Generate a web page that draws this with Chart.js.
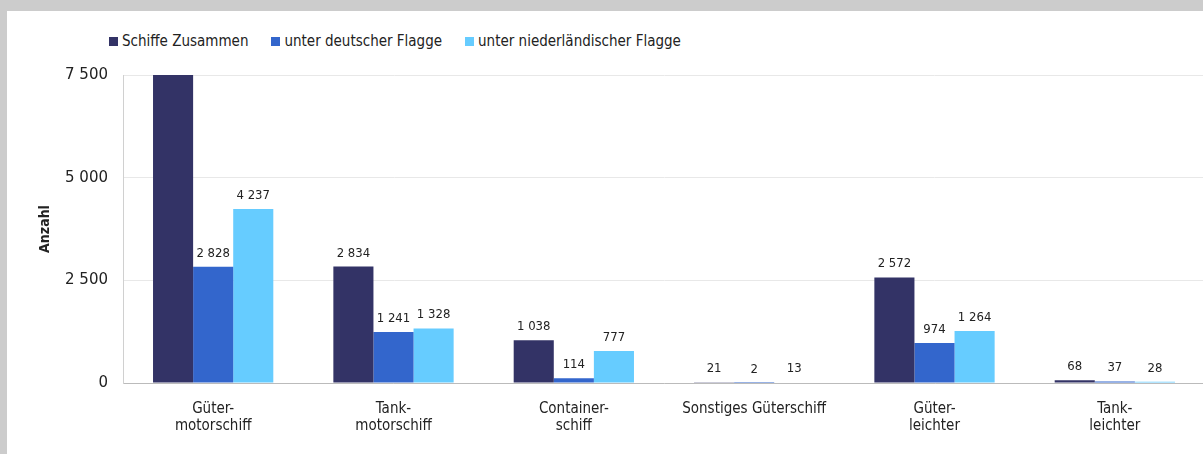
<!DOCTYPE html>
<html lang="de">
<head>
<meta charset="utf-8">
<title>Binnenschiffe nach Schiffsart</title>
<script src="https://cdn.jsdelivr.net/npm/chart.js@4/dist/chart.umd.min.js"></script>
<style>
  html, body { margin: 0; padding: 0; }
  body { width: 1203px; height: 454px; background: #cccccc; overflow: hidden; }
  .frame { position: absolute; left: 7px; top: 11px; width: 1196px; height: 443px; background: #fff; overflow: hidden; }
  .legend { position: absolute; left: 102px; top: 21px; display: flex; font: 15px "DejaVu Sans Condensed", "DejaVu Sans", sans-serif; color: #222; }
  .legend-item { display: flex; align-items: center; margin-right: 23px; }
  .legend-sq { width: 9px; height: 9px; margin-right: 4px; }
  .chart-box { position: absolute; left: 0; top: 0; width: 1198px; height: 443px; }
</style>
</head>
<body>
<div class="frame">
  <div class="legend" id="legend"></div>
  <div class="chart-box"><canvas id="chart"></canvas></div>
</div>
<script>
const CATEGORIES = [
  ["Güter-", "motorschiff"],
  ["Tank-", "motorschiff"],
  ["Container-", "schiff"],
  "Sonstiges Güterschiff",
  ["Güter-", "leichter"],
  ["Tank-", "leichter"],
];
const SERIES_NAMES = ["Schiffe Zusammen", "unter deutscher Flagge", "unter niederländischer Flagge"];
const SERIES_COLORS = ["#333366", "#3366cc", "#66ccff"];

// first value is cut off by the axis in the source, estimated
const TOTAL   = [7800, 2834, 1038, 21, 2572, 68];
const GERMAN  = [2828, 1241, 114, 2, 974, 37];
const DUTCH   = [4237, 1328, 777, 13, 1264, 28];

const Y_MAX = 7500;
const Y_STEP = 2500;

const fmt = (v) => String(Math.round(v)).replace(/\B(?=(\d{3})+(?!\d))/g, " ");

// html legend
const legendEl = document.getElementById("legend");
SERIES_NAMES.forEach((name, i) => {
  const item = document.createElement("div");
  item.className = "legend-item";
  item.innerHTML = '<div class="legend-sq" style="background:' + SERIES_COLORS[i] + '"></div>' + name;
  legendEl.appendChild(item);
});

// value labels above the bars
const valueLabels = {
  id: "valueLabels",
  afterDatasetsDraw(chart) {
    const ctx = chart.ctx;
    ctx.save();
    ctx.font = '13px "DejaVu Sans Condensed", "DejaVu Sans", sans-serif';
    ctx.fillStyle = "#222";
    ctx.textAlign = "center";
    ctx.textBaseline = "alphabetic";
    chart.data.datasets.forEach((ds, di) => {
      chart.getDatasetMeta(di).data.forEach((bar, i) => {
        const v = ds.data[i];
        if (v > Y_MAX) return;
        ctx.fillText(fmt(v), bar.x, bar.y - 10);
      });
    });
    ctx.restore();
  },
};

const seriesData = [TOTAL, GERMAN, DUTCH];

new Chart(document.getElementById("chart"), {
  type: "bar",
  data: {
    labels: CATEGORIES,
    datasets: SERIES_NAMES.map((name, i) => ({
      label: name,
      data: seriesData[i],
      backgroundColor: SERIES_COLORS[i],
      categoryPercentage: 0.667,
      barPercentage: 1,
    })),
  },
  options: {
    responsive: true, maintainAspectRatio: false, animation: false,
    layout: { padding: { top: 64, right: 0, bottom: 0, left: 0 } },
    plugins: { legend: { display: false }, tooltip: { enabled: false } },
    scales: {
      x: {
        grid: { display: false, drawTicks: false },
        border: { color: "#bbbbbb" },
        ticks: { color: "#222", padding: 17, maxRotation: 0, autoSkip: false,
                 font: { family: '"DejaVu Sans Condensed", "DejaVu Sans", sans-serif', size: 15, lineHeight: 1.15 } },
        afterFit: (s) => { s.height = 71; },
      },
      y: {
        min: 0, max: Y_MAX,
        grid: { color: "#e8e8e8", drawTicks: false },
        border: { color: "#d0d0d0" },
        ticks: { stepSize: Y_STEP, color: "#222", padding: 15, callback: (v) => fmt(v),
                 font: { family: '"DejaVu Sans", sans-serif', size: 15 } },
        title: { display: true, text: "Anzahl", color: "#222", padding: { top: 30, bottom: 0 },
                 font: { family: '"DejaVu Sans Condensed", "DejaVu Sans", sans-serif', size: 14, weight: "bold" } },
        afterFit: (s) => { s.width = 116; },
      },
    },
  },
  plugins: [valueLabels],
});
</script>
</body>
</html>
